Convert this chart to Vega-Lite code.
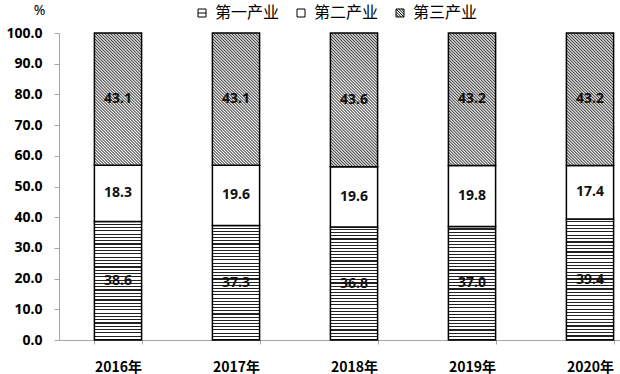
{
  "$schema": "https://vega.github.io/schema/vega-lite/v6.json",
  "width": 590,
  "height": 307,
  "autosize": {"type": "none"},
  "padding": {"left": 59, "top": 33, "right": 0, "bottom": 34},
  "background": "white",
  "config": {
    "view": {"stroke": null},
    "font": "Noto Sans CJK SC",
    "axis": {"labelOverlap": false}
  },
  "data": {
    "values": [
      {"year": "2016年", "industry": "第一产业", "value": 38.6},
      {"year": "2016年", "industry": "第二产业", "value": 18.3},
      {"year": "2016年", "industry": "第三产业", "value": 43.1},
      {"year": "2017年", "industry": "第一产业", "value": 37.3},
      {"year": "2017年", "industry": "第二产业", "value": 19.6},
      {"year": "2017年", "industry": "第三产业", "value": 43.1},
      {"year": "2018年", "industry": "第一产业", "value": 36.8},
      {"year": "2018年", "industry": "第二产业", "value": 19.6},
      {"year": "2018年", "industry": "第三产业", "value": 43.6},
      {"year": "2019年", "industry": "第一产业", "value": 37.0},
      {"year": "2019年", "industry": "第二产业", "value": 19.8},
      {"year": "2019年", "industry": "第三产业", "value": 43.2},
      {"year": "2020年", "industry": "第一产业", "value": 39.4},
      {"year": "2020年", "industry": "第二产业", "value": 17.4},
      {"year": "2020年", "industry": "第三产业", "value": 43.2}
    ]
  },
  "transform": [
    {"calculate": "indexof(['第一产业','第二产业','第三产业'], datum.industry)", "as": "ord"},
    {"stack": "value", "groupby": ["year"], "sort": [{"field": "ord", "order": "ascending"}], "as": ["v0", "v1"]},
    {"calculate": "(datum.v0 + datum.v1) / 2", "as": "mid"}
  ],
  "encoding": {
    "x": {
      "field": "year",
      "type": "nominal",
      "sort": null,
      "scale": {"paddingInner": 0.6, "paddingOuter": 0.3},
      "axis": {
        "title": null,
        "labelAngle": 0,
        "labelFont": "Noto Sans CJK SC",
        "labelFontWeight": "bold",
        "labelFontSize": 14,
        "labelColor": "#000",
        "labelPadding": 16,
        "tickSize": 4,
        "tickColor": "#a6a6a6",
        "domainColor": "#a6a6a6",
        "tickBand": "extent",
        "grid": false
      }
    },
    "y": {
      "field": "v0",
      "type": "quantitative",
      "scale": {"domain": [0, 100], "nice": false},
      "axis": {
        "values": [0, 10, 20, 30, 40, 50, 60, 70, 80, 90, 100],
        "tickCount": 11,
        "format": ".1f",
        "grid": false,
        "labelOverlap": false,
        "labelFont": "Noto Sans",
        "labelFontWeight": "bold",
        "labelFontSize": 14,
        "labelColor": "#000",
        "labelPadding": 12,
        "tickSize": 5,
        "tickColor": "#a6a6a6",
        "domainColor": "#a6a6a6",
        "title": "%",
        "titleAngle": 0,
        "titleX": -20,
        "titleY": -23,
        "titleAlign": "center",
        "titleBaseline": "middle",
        "titleFontWeight": "normal",
        "titleFontSize": 14,
        "titleFont": "Noto Sans",
        "titleColor": "#000"
      }
    }
  },
  "layer": [
    {
      "mark": {"type": "point", "opacity": 0, "filled": false, "stroke": "#000"},
      "encoding": {
        "shape": {
          "field": "industry",
          "type": "nominal",
          "scale": {
            "domain": ["第一产业", "第二产业", "第三产业"],
            "range": [
              "M-1,-1H1V1H-1Z M-1,0H1",
              "M-1,-1H1V1H-1Z",
              "M-1,-1H1V1H-1Z M-1,-1L1,1 M-1,-0.33L0.33,1 M-1,0.33L-0.33,1 M-0.33,-1L1,0.33 M0.33,-1L1,-0.33"
            ]
          },
          "legend": {
            "title": null,
            "orient": "none",
            "legendX": 135,
            "legendY": -28,
            "direction": "horizontal",
            "symbolSize": 64,
            "symbolOpacity": 1,
            "symbolFillColor": "#fff",
            "symbolStrokeColor": "#000",
            "symbolStrokeWidth": 1,
            "labelFont": "Noto Sans CJK SC",
            "labelFontSize": 16,
            "labelColor": "#000",
            "labelOffset": 5,
            "columnPadding": 13
          }
        }
      }
    },
    {
      "transform": [{"filter": "datum.industry === '第一产业'"}],
      "mark": {"type": "bar", "stroke": "#000", "strokeWidth": 1.5,
        "fill": {"gradient": "linear", "x1": 0, "y1": 0, "x2": 0, "y2": 1, "stops": [
                {"offset": 0, "color": "#fff"}, {"offset": 0.0181, "color": "#fff"}, {"offset": 0.0181, "color": "#222"}, {"offset": 0.0278, "color": "#222"},
                {"offset": 0.0278, "color": "#fff"}, {"offset": 0.0459, "color": "#fff"}, {"offset": 0.0459, "color": "#222"}, {"offset": 0.0556, "color": "#222"},
                {"offset": 0.0556, "color": "#fff"}, {"offset": 0.0737, "color": "#fff"}, {"offset": 0.0737, "color": "#222"}, {"offset": 0.0833, "color": "#222"},
                {"offset": 0.0833, "color": "#fff"}, {"offset": 0.1014, "color": "#fff"}, {"offset": 0.1014, "color": "#222"}, {"offset": 0.1111, "color": "#222"},
                {"offset": 0.1111, "color": "#fff"}, {"offset": 0.1292, "color": "#fff"}, {"offset": 0.1292, "color": "#222"}, {"offset": 0.1389, "color": "#222"},
                {"offset": 0.1389, "color": "#fff"}, {"offset": 0.157, "color": "#fff"}, {"offset": 0.157, "color": "#222"}, {"offset": 0.1667, "color": "#222"},
                {"offset": 0.1667, "color": "#fff"}, {"offset": 0.1848, "color": "#fff"}, {"offset": 0.1848, "color": "#222"}, {"offset": 0.1944, "color": "#222"},
                {"offset": 0.1944, "color": "#fff"}, {"offset": 0.2125, "color": "#fff"}, {"offset": 0.2125, "color": "#222"}, {"offset": 0.2222, "color": "#222"},
                {"offset": 0.2222, "color": "#fff"}, {"offset": 0.2403, "color": "#fff"}, {"offset": 0.2403, "color": "#222"}, {"offset": 0.25, "color": "#222"},
                {"offset": 0.25, "color": "#fff"}, {"offset": 0.2681, "color": "#fff"}, {"offset": 0.2681, "color": "#222"}, {"offset": 0.2778, "color": "#222"},
                {"offset": 0.2778, "color": "#fff"}, {"offset": 0.2959, "color": "#fff"}, {"offset": 0.2959, "color": "#222"}, {"offset": 0.3056, "color": "#222"},
                {"offset": 0.3056, "color": "#fff"}, {"offset": 0.3237, "color": "#fff"}, {"offset": 0.3237, "color": "#222"}, {"offset": 0.3333, "color": "#222"},
                {"offset": 0.3333, "color": "#fff"}, {"offset": 0.3514, "color": "#fff"}, {"offset": 0.3514, "color": "#222"}, {"offset": 0.3611, "color": "#222"},
                {"offset": 0.3611, "color": "#fff"}, {"offset": 0.3792, "color": "#fff"}, {"offset": 0.3792, "color": "#222"}, {"offset": 0.3889, "color": "#222"},
                {"offset": 0.3889, "color": "#fff"}, {"offset": 0.407, "color": "#fff"}, {"offset": 0.407, "color": "#222"}, {"offset": 0.4167, "color": "#222"},
                {"offset": 0.4167, "color": "#fff"}, {"offset": 0.4348, "color": "#fff"}, {"offset": 0.4348, "color": "#222"}, {"offset": 0.4444, "color": "#222"},
                {"offset": 0.4444, "color": "#fff"}, {"offset": 0.4625, "color": "#fff"}, {"offset": 0.4625, "color": "#222"}, {"offset": 0.4722, "color": "#222"},
                {"offset": 0.4722, "color": "#fff"}, {"offset": 0.4903, "color": "#fff"}, {"offset": 0.4903, "color": "#222"}, {"offset": 0.5, "color": "#222"},
                {"offset": 0.5, "color": "#fff"}, {"offset": 0.5181, "color": "#fff"}, {"offset": 0.5181, "color": "#222"}, {"offset": 0.5278, "color": "#222"},
                {"offset": 0.5278, "color": "#fff"}, {"offset": 0.5459, "color": "#fff"}, {"offset": 0.5459, "color": "#222"}, {"offset": 0.5556, "color": "#222"},
                {"offset": 0.5556, "color": "#fff"}, {"offset": 0.5737, "color": "#fff"}, {"offset": 0.5737, "color": "#222"}, {"offset": 0.5833, "color": "#222"},
                {"offset": 0.5833, "color": "#fff"}, {"offset": 0.6014, "color": "#fff"}, {"offset": 0.6014, "color": "#222"}, {"offset": 0.6111, "color": "#222"},
                {"offset": 0.6111, "color": "#fff"}, {"offset": 0.6292, "color": "#fff"}, {"offset": 0.6292, "color": "#222"}, {"offset": 0.6389, "color": "#222"},
                {"offset": 0.6389, "color": "#fff"}, {"offset": 0.657, "color": "#fff"}, {"offset": 0.657, "color": "#222"}, {"offset": 0.6667, "color": "#222"},
                {"offset": 0.6667, "color": "#fff"}, {"offset": 0.6848, "color": "#fff"}, {"offset": 0.6848, "color": "#222"}, {"offset": 0.6944, "color": "#222"},
                {"offset": 0.6944, "color": "#fff"}, {"offset": 0.7125, "color": "#fff"}, {"offset": 0.7125, "color": "#222"}, {"offset": 0.7222, "color": "#222"},
                {"offset": 0.7222, "color": "#fff"}, {"offset": 0.7403, "color": "#fff"}, {"offset": 0.7403, "color": "#222"}, {"offset": 0.75, "color": "#222"},
                {"offset": 0.75, "color": "#fff"}, {"offset": 0.7681, "color": "#fff"}, {"offset": 0.7681, "color": "#222"}, {"offset": 0.7778, "color": "#222"},
                {"offset": 0.7778, "color": "#fff"}, {"offset": 0.7959, "color": "#fff"}, {"offset": 0.7959, "color": "#222"}, {"offset": 0.8056, "color": "#222"},
                {"offset": 0.8056, "color": "#fff"}, {"offset": 0.8237, "color": "#fff"}, {"offset": 0.8237, "color": "#222"}, {"offset": 0.8333, "color": "#222"},
                {"offset": 0.8333, "color": "#fff"}, {"offset": 0.8514, "color": "#fff"}, {"offset": 0.8514, "color": "#222"}, {"offset": 0.8611, "color": "#222"},
                {"offset": 0.8611, "color": "#fff"}, {"offset": 0.8792, "color": "#fff"}, {"offset": 0.8792, "color": "#222"}, {"offset": 0.8889, "color": "#222"},
                {"offset": 0.8889, "color": "#fff"}, {"offset": 0.907, "color": "#fff"}, {"offset": 0.907, "color": "#222"}, {"offset": 0.9167, "color": "#222"},
                {"offset": 0.9167, "color": "#fff"}, {"offset": 0.9348, "color": "#fff"}, {"offset": 0.9348, "color": "#222"}, {"offset": 0.9444, "color": "#222"},
                {"offset": 0.9444, "color": "#fff"}, {"offset": 0.9625, "color": "#fff"}, {"offset": 0.9625, "color": "#222"}, {"offset": 0.9722, "color": "#222"},
                {"offset": 0.9722, "color": "#fff"}, {"offset": 0.9903, "color": "#fff"}, {"offset": 0.9903, "color": "#222"}, {"offset": 1, "color": "#222"}
        ]}
      },
      "encoding": {
        "y2": {"field": "v1"}
      }
    },
    {
      "transform": [{"filter": "datum.industry === '第二产业'"}],
      "mark": {"type": "bar", "stroke": "#000", "strokeWidth": 1.5, "fill": "#ffffff"},
      "encoding": {
        "y2": {"field": "v1"}
      }
    },
    {
      "transform": [{"filter": "datum.industry === '第三产业'"}],
      "mark": {"type": "bar", "stroke": "#000", "strokeWidth": 1.5,
        "fill": {"gradient": "linear", "x1": 0, "y1": 1, "x2": 0.427, "y2": -0.203, "stops": [
                {"offset": 0, "color": "#fff"}, {"offset": 0.0083, "color": "#444"}, {"offset": 0.0167, "color": "#fff"}, {"offset": 0.025, "color": "#444"}, {"offset": 0.0333, "color": "#fff"}, {"offset": 0.0417, "color": "#444"}, {"offset": 0.05, "color": "#fff"}, {"offset": 0.0583, "color": "#444"}, {"offset": 0.0667, "color": "#fff"}, {"offset": 0.075, "color": "#444"}, {"offset": 0.0833, "color": "#fff"}, {"offset": 0.0917, "color": "#444"},
                {"offset": 0.1, "color": "#fff"}, {"offset": 0.1083, "color": "#444"}, {"offset": 0.1167, "color": "#fff"}, {"offset": 0.125, "color": "#444"}, {"offset": 0.1333, "color": "#fff"}, {"offset": 0.1417, "color": "#444"}, {"offset": 0.15, "color": "#fff"}, {"offset": 0.1583, "color": "#444"}, {"offset": 0.1667, "color": "#fff"}, {"offset": 0.175, "color": "#444"}, {"offset": 0.1833, "color": "#fff"}, {"offset": 0.1917, "color": "#444"},
                {"offset": 0.2, "color": "#fff"}, {"offset": 0.2083, "color": "#444"}, {"offset": 0.2167, "color": "#fff"}, {"offset": 0.225, "color": "#444"}, {"offset": 0.2333, "color": "#fff"}, {"offset": 0.2417, "color": "#444"}, {"offset": 0.25, "color": "#fff"}, {"offset": 0.2583, "color": "#444"}, {"offset": 0.2667, "color": "#fff"}, {"offset": 0.275, "color": "#444"}, {"offset": 0.2833, "color": "#fff"}, {"offset": 0.2917, "color": "#444"},
                {"offset": 0.3, "color": "#fff"}, {"offset": 0.3083, "color": "#444"}, {"offset": 0.3167, "color": "#fff"}, {"offset": 0.325, "color": "#444"}, {"offset": 0.3333, "color": "#fff"}, {"offset": 0.3417, "color": "#444"}, {"offset": 0.35, "color": "#fff"}, {"offset": 0.3583, "color": "#444"}, {"offset": 0.3667, "color": "#fff"}, {"offset": 0.375, "color": "#444"}, {"offset": 0.3833, "color": "#fff"}, {"offset": 0.3917, "color": "#444"},
                {"offset": 0.4, "color": "#fff"}, {"offset": 0.4083, "color": "#444"}, {"offset": 0.4167, "color": "#fff"}, {"offset": 0.425, "color": "#444"}, {"offset": 0.4333, "color": "#fff"}, {"offset": 0.4417, "color": "#444"}, {"offset": 0.45, "color": "#fff"}, {"offset": 0.4583, "color": "#444"}, {"offset": 0.4667, "color": "#fff"}, {"offset": 0.475, "color": "#444"}, {"offset": 0.4833, "color": "#fff"}, {"offset": 0.4917, "color": "#444"},
                {"offset": 0.5, "color": "#fff"}, {"offset": 0.5083, "color": "#444"}, {"offset": 0.5167, "color": "#fff"}, {"offset": 0.525, "color": "#444"}, {"offset": 0.5333, "color": "#fff"}, {"offset": 0.5417, "color": "#444"}, {"offset": 0.55, "color": "#fff"}, {"offset": 0.5583, "color": "#444"}, {"offset": 0.5667, "color": "#fff"}, {"offset": 0.575, "color": "#444"}, {"offset": 0.5833, "color": "#fff"}, {"offset": 0.5917, "color": "#444"},
                {"offset": 0.6, "color": "#fff"}, {"offset": 0.6083, "color": "#444"}, {"offset": 0.6167, "color": "#fff"}, {"offset": 0.625, "color": "#444"}, {"offset": 0.6333, "color": "#fff"}, {"offset": 0.6417, "color": "#444"}, {"offset": 0.65, "color": "#fff"}, {"offset": 0.6583, "color": "#444"}, {"offset": 0.6667, "color": "#fff"}, {"offset": 0.675, "color": "#444"}, {"offset": 0.6833, "color": "#fff"}, {"offset": 0.6917, "color": "#444"},
                {"offset": 0.7, "color": "#fff"}, {"offset": 0.7083, "color": "#444"}, {"offset": 0.7167, "color": "#fff"}, {"offset": 0.725, "color": "#444"}, {"offset": 0.7333, "color": "#fff"}, {"offset": 0.7417, "color": "#444"}, {"offset": 0.75, "color": "#fff"}, {"offset": 0.7583, "color": "#444"}, {"offset": 0.7667, "color": "#fff"}, {"offset": 0.775, "color": "#444"}, {"offset": 0.7833, "color": "#fff"}, {"offset": 0.7917, "color": "#444"},
                {"offset": 0.8, "color": "#fff"}, {"offset": 0.8083, "color": "#444"}, {"offset": 0.8167, "color": "#fff"}, {"offset": 0.825, "color": "#444"}, {"offset": 0.8333, "color": "#fff"}, {"offset": 0.8417, "color": "#444"}, {"offset": 0.85, "color": "#fff"}, {"offset": 0.8583, "color": "#444"}, {"offset": 0.8667, "color": "#fff"}, {"offset": 0.875, "color": "#444"}, {"offset": 0.8833, "color": "#fff"}, {"offset": 0.8917, "color": "#444"},
                {"offset": 0.9, "color": "#fff"}, {"offset": 0.9083, "color": "#444"}, {"offset": 0.9167, "color": "#fff"}, {"offset": 0.925, "color": "#444"}, {"offset": 0.9333, "color": "#fff"}, {"offset": 0.9417, "color": "#444"}, {"offset": 0.95, "color": "#fff"}, {"offset": 0.9583, "color": "#444"}, {"offset": 0.9667, "color": "#fff"}, {"offset": 0.975, "color": "#444"}, {"offset": 0.9833, "color": "#fff"}, {"offset": 0.9917, "color": "#444"},
                {"offset": 1, "color": "#fff"}
        ]}
      },
      "encoding": {
        "y2": {"field": "v1"}
      }
    },
    {
      "mark": {"type": "text", "font": "Noto Sans", "fontWeight": "bold", "fontSize": 14, "color": "#111", "baseline": "middle"},
      "encoding": {
        "y": {"field": "mid", "type": "quantitative", "axis": {"values": [0, 10, 20, 30, 40, 50, 60, 70, 80, 90, 100], "tickCount": 11, "labelOverlap": false}},
        "text": {"field": "value", "type": "quantitative", "format": ".1f"}
      }
    }
  ]
}
